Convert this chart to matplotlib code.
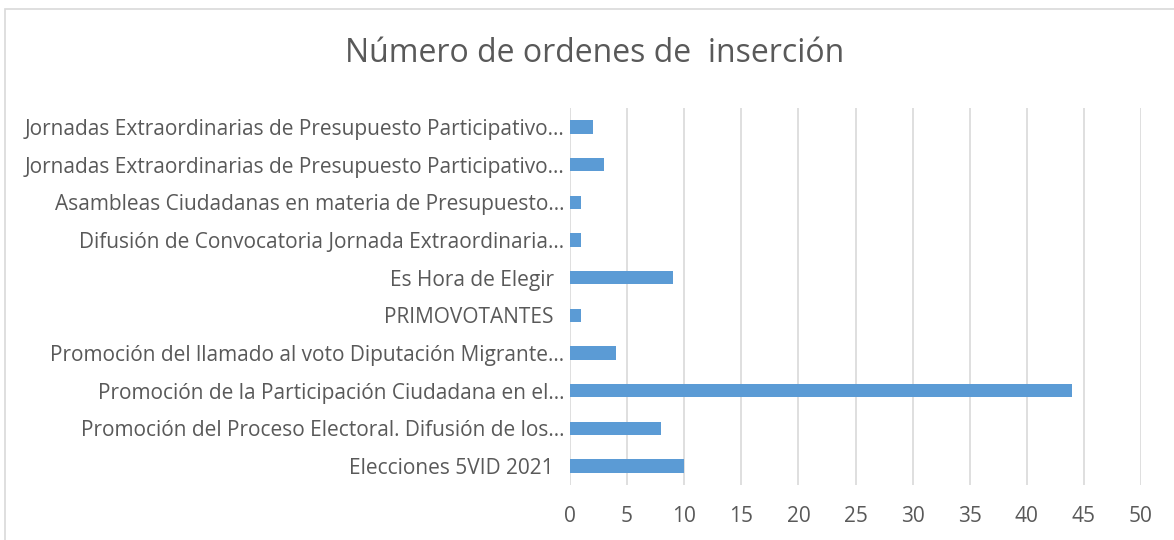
"""Horizontal bar chart: número de órdenes de inserción por campaña."""

import matplotlib.pyplot as plt
from matplotlib.patches import Rectangle

# categories, top to bottom as shown
campaigns = [
    "Jornadas Extraordinarias de Presupuesto Participativo…",
    "Jornadas Extraordinarias de Presupuesto Participativo…",
    "Asambleas Ciudadanas en materia de Presupuesto…",
    "Difusión de Convocatoria Jornada Extraordinaria…",
    "Es Hora de Elegir  ",
    "PRIMOVOTANTES  ",
    "Promoción del llamado al voto Diputación Migrante…",
    "Promoción de la Participación Ciudadana en el…",
    "Promoción del Proceso Electoral. Difusión de los…",
    "Elecciones 5VID 2021  ",
]
orders = [2, 3, 1, 1, 9, 1, 4, 44, 8, 10]
x_ticks = [0, 5, 10, 15, 20, 25, 30, 35, 40, 45, 50]

title = "Número de ordenes de  inserción"

bar_color = "#5B9BD5"
text_color = "#595959"
grid_color = "#D9D9D9"

plt.rcParams["font.family"] = ["Open Sans", "DejaVu Sans"]

W, H = 1174, 540
fig = plt.figure(figsize=(W / 100, H / 100), dpi=100)

# chart frame (Excel chart area border)
fig.patches.append(
    Rectangle((5 / W, -0.1), 1.2, (H - 9) / H + 0.1, transform=fig.transFigure,
              fill=False, edgecolor=grid_color, linewidth=1.2)
)

ax = fig.add_axes([570 / W, 55 / H, (1141 - 570) / W, (432 - 55) / H])

positions = list(range(len(campaigns)))
ax.barh(positions, orders, height=0.355, color=bar_color, zorder=3)

ax.set_ylim(len(campaigns) - 0.5, -0.5)
ax.set_xlim(0, 50)
ax.set_xticks(x_ticks)
ax.set_xticklabels([str(t) for t in x_ticks], fontsize=15, color=text_color)
ax.set_yticks(positions)
ax.set_yticklabels(campaigns, fontsize=15, color=text_color)

ax.tick_params(axis="both", length=0)
ax.tick_params(axis="x", pad=15)
ax.tick_params(axis="y", pad=4)
ax.grid(axis="x", color=grid_color, linewidth=1.2, zorder=0)
for spine in ax.spines.values():
    spine.set_visible(False)

fig.text(595 / W, 1 - 53 / H, title, ha="center", va="center",
         fontsize=23, color=text_color)

fig.savefig("out.png", dpi=100)
